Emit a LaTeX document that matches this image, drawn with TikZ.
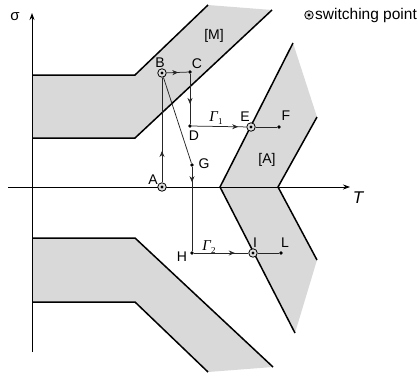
\documentclass[tikz,border=0pt]{standalone}
\usepackage{fontspec}
\setmainfont{Liberation Sans}
\newfontfamily\seriffam{Liberation Serif}
\usetikzlibrary{arrows.meta,decorations.markings}
\newcommand{\gam}[1]{{\seriffam\itshape Γ}\raisebox{-2.5pt}{\seriffam\fontsize{9}{9}\selectfont #1}}
\begin{document}
\begin{tikzpicture}[x=1pt,y=-1pt,
  bandline/.style={line width=1.5pt, line join=miter},
  trk/.style={black!85, line width=0.75pt},
  midarrow/.style={postaction={decorate},decoration={markings,mark=at position #1 with {\arrow{Stealth[length=6pt,width=5pt]}}}},
  dotpt/.style={circle,fill=black,inner sep=0pt,minimum size=3.8pt},
  sw/.style={circle,draw=black,line width=0.8pt,fill=gray!25,inner sep=0pt,minimum size=8.5pt,
     path picture={\fill[black] (path picture bounding box.center) circle (1.7pt);}},
  lbl/.style={font=\fontsize{14}{14}\selectfont, inner sep=1pt},
  axisarrow/.style={line width=0.9pt,-{Stealth[length=7pt,width=5pt]}}
]
\useasboundingbox (0,0) rectangle (420,375);
% gray regions
\fill[gray!30] (32,75) -- (135,75) -- (208,5) -- (272,10) -- (135,138) -- (32,138) -- cycle;
\fill[gray!30] (32,238) -- (135,238) -- (273,367) -- (208,372) -- (135,302) -- (32,302) -- cycle;
\fill[gray!30] (293,43) -- (317,117) -- (278,187) -- (317,260) -- (295,333) -- (220,187) -- cycle;
% band outlines
\draw[bandline] (32,75) -- (135,75) -- (208,5);
\draw[bandline] (32,138) -- (135,138) -- (272,10);
\draw[bandline] (32,238) -- (135,238) -- (273,367);
\draw[bandline] (32,302) -- (135,302) -- (208,372);
\draw[bandline] (293,43) -- (220,187) -- (295,333);
\draw[bandline] (317,117) -- (278,187) -- (317,260);
% axes
\coordinate (yb) at (32,352);
\coordinate (yt) at (32,13);
\coordinate (xl) at (8,187);
\coordinate (xr) at (350,187);
\draw[axisarrow] (yb) -- (yt);
\draw[axisarrow, line width=0.7pt] (xl) -- (xr);
\node[font=\fontsize{15}{15}\selectfont] (sig) at (15,17) {σ};
\node[font=\fontsize{17}{17}\selectfont\itshape] (Tl) at (358,198) {T};
% points
\node[sw] (A) at (162,187) {};
\node[sw] (B) at (162,73) {};
\node[dotpt] (C) at (190,72) {};
\node[dotpt] (D) at (190,126) {};
\node[sw] (E) at (251,127) {};
\node[dotpt] (F) at (279,127) {};
\node[dotpt] (G) at (192,165) {};
\node[dotpt] (H) at (192,253) {};
\node[sw] (I) at (253,253) {};
\node[dotpt] (L) at (281,253) {};
% paths
\draw[trk, midarrow=0.3] (A) -- (B);
\draw[trk, midarrow=0.55] (B) -- (C);
\draw[trk, midarrow=0.6] (C) -- (D);
\draw[trk, midarrow=0.85] (D) -- (E);
\draw[trk] (E) -- (F);
\draw[trk] (B) -- (G);
\draw[trk, midarrow=0.18] (G) -- (H);
\draw[trk, midarrow=0.75] (H) -- (I);
\draw[trk] (I) -- (L);
% labels
\node[lbl] (lA) at (153,180) {A};
\node[lbl] (lB) at (160,63) {B};
\node[lbl] (lC) at (197,64) {C};
\node[lbl] (lD) at (194,136) {D};
\node[lbl] (lE) at (245,117) {E};
\node[lbl] (lF) at (286,116) {F};
\node[lbl] (lG) at (204,164) {G};
\node[lbl] (lH) at (182,257) {H};
\node[lbl] (lI) at (255,243) {I};
\node[lbl] (lL) at (285,243) {L};
\node[font=\fontsize{15}{15}\selectfont, inner sep=0pt] (g1) at (216,118) {\gam{1}};
\node[font=\fontsize{15}{15}\selectfont, inner sep=0pt] (g2) at (209,247) {\gam{2}};
\node[lbl] (lM) at (214,36) {[M]};
\node[lbl] (lAA) at (267,160) {[A]};
% legend
\node[sw] (leg) at (309,15) {};
\node[anchor=west, inner sep=0pt, font=\fontsize{15.5}{15.5}\selectfont] (legt) at (315,15) {switching point};
\end{tikzpicture}
\end{document}
